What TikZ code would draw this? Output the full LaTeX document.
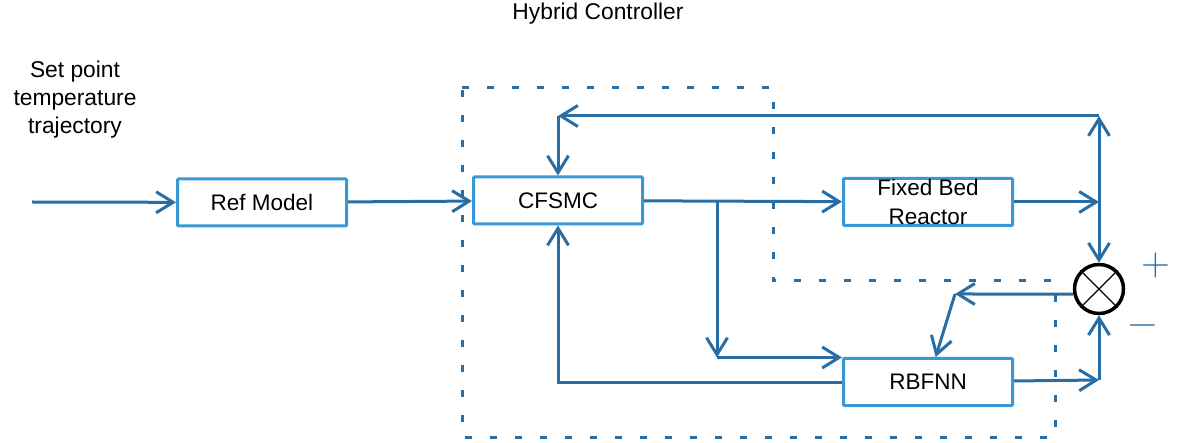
\documentclass[tikz,border=0pt]{standalone}
\usepackage{fontspec}
\setmainfont{Liberation Sans}
\newfontfamily\signfont{Latin Modern Roman}
\usetikzlibrary{arrows.meta}
\definecolor{linkblue}{RGB}{40,110,165}
\definecolor{boxblue}{RGB}{58,152,214}
\tikzset{
  blk/.style={draw=boxblue,line width=3pt,rounded corners=1pt,minimum width=169pt,minimum height=47pt,inner sep=0pt,align=center,font=\fontsize{22.5}{29}\selectfont},
  link/.style={draw=linkblue,line width=3pt,-{Straight Barb[length=17pt,width=21pt]}},
  bound/.style={draw=linkblue,line width=3pt,dash pattern=on 7pt off 18pt},
  lbl/.style={align=center,font=\fontsize{22.8}{28}\selectfont},
  sign/.style={text=linkblue,inner sep=0pt,font=\signfont\fontsize{40}{40}\selectfont},
}
\begin{document}
\begin{tikzpicture}[x=1pt,y=1pt,yscale=-1,xscale=1]
\useasboundingbox (0,0) rectangle (1191,443);
%Dashed boundary of the hybrid controller
\draw[bound] (462,88) -- (773,88) -- (773,281) -- (1055,281) -- (1055,437) -- (462,437) -- cycle;
% Blocks
\node[blk] (ref) at (262,202.5) {Ref Model};
\node[blk] (cfsmc) at (558,200.5) {CFSMC};
\node[blk] (fbr) at (928,202) {Fixed Bed\\Reactor};
\node[blk] (rbfnn) at (928,382) {RBFNN};
%Shape: Circle (summing junction)
\node[draw,line width=3.5pt,circle,minimum size=49pt,inner sep=0pt] (sum) at (1099,289) {};
\draw[line width=1.3pt] (sum.45) -- (sum.225) (sum.135) -- (sum.315);
% Text Node
\node[lbl] (title) at (598,14) {Hybrid Controller};
\node[lbl] (setpt) at (75,100) {Set point\\temperature\\trajectory};
\node[sign] (plus) at (1156,266) {+};
\node[sign] (minus) at (1143,330) {−};
% Corner points
\coordinate (in) at (32,202);
\coordinate (brk) at (717,201);
\coordinate (bend) at (717,357.5);
\coordinate (jn) at (1099,202);
\coordinate (topr) at (1099,116);
\coordinate (topl) at (558,116);
\coordinate (rr) at (1099,380);
\coordinate (err) at (955,294);
%Straight Lines
\draw[link] (in) -- (ref);
\draw[link] (ref) -- (cfsmc);
\draw[link] (cfsmc) -- (fbr);
\draw[link] (brk) -- (bend);
\draw[link] (bend) -- (bend -| rbfnn.west);
\draw[link] (rbfnn.west) -- (cfsmc.south |- rbfnn.west) -- (cfsmc.south);
\draw[link] (fbr) -- (jn);
\draw[link] (jn) -- (topr);
\draw[link] (jn) -- (sum);
\draw[link] (topr) -- (topl);
\draw[link] (topl) -- (cfsmc);
\draw[link] (rbfnn) -- (rr);
\draw[link] (rr) -- (sum);
\draw[link] (sum.191) -- (err);
\draw[link] (err) -- (rbfnn);
\end{tikzpicture}
\end{document}
